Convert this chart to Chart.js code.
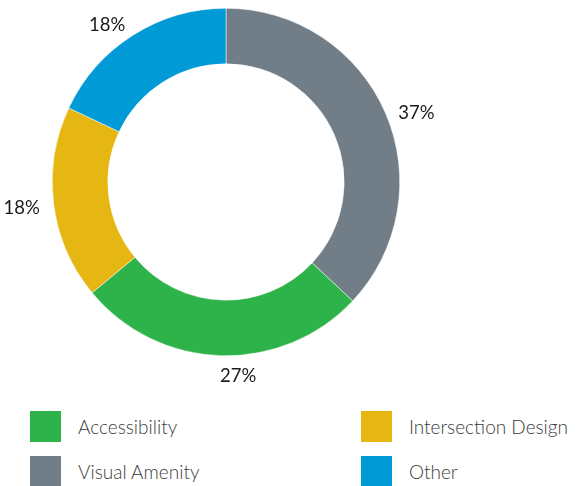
<!DOCTYPE html>
<html>
<head>
<meta charset="utf-8">
<script src="https://cdn.jsdelivr.net/npm/chart.js@4.4.1/dist/chart.umd.min.js"></script>
<style>
  html, body { margin: 0; padding: 0; background: #fff; }
  #wrap { position: relative; width: 578px; height: 486px; overflow: hidden; }
  #chart-box { position: absolute; left: 0; top: 0; width: 578px; height: 400px; }
  #legend { position: absolute; left: 30px; top: 411px; width: 548px; }
  .item { position: absolute; display: flex; align-items: center; font-family: Lato, sans-serif; font-weight: 300; font-size: 19px; color: #3c3c3c; white-space: nowrap; }
  .sw { width: 31px; height: 31px; margin-right: 17px; flex: none; }
</style>
</head>
<body>
<div id="wrap">
  <div id="chart-box"><canvas id="myChart"></canvas></div>
  <div id="legend"></div>
</div>
<script>
// slices go clockwise from 12 o'clock
const labels = ["Visual Amenity", "Accessibility", "Intersection Design", "Other"];
const values = [37, 27, 18, 18];
const colors = ["#717e87", "#2db34a", "#e6b612", "#009ad7"];
// legend order (2 columns)
const legendOrder = ["Accessibility", "Intersection Design", "Visual Amenity", "Other"];

// percent labels outside the ring: right half left-aligned, left half right-aligned
const outsideLabels = {
  id: "outsideLabels",
  afterDatasetsDraw(chart) {
    const ctx = chart.ctx;
    const meta = chart.getDatasetMeta(0);
    ctx.save();
    ctx.font = "400 18.5px Lato, sans-serif";
    ctx.fillStyle = "#1a1a1a";
    ctx.textBaseline = "middle";
    meta.data.forEach((arc, i) => {
      const mid = (arc.startAngle + arc.endAngle) / 2;
      const r = arc.outerRadius + 14;
      const x = arc.x + Math.cos(mid) * r;
      const y = arc.y + Math.sin(mid) * r;
      const right = Math.cos(mid) >= -0.05;
      ctx.textAlign = right ? "left" : "right";
      ctx.fillText(values[i] + "%", x, y + (right ? 6 : 2));
    });
    ctx.restore();
  }
};

new Chart(document.getElementById("myChart"), {
  type: "doughnut",
  data: {
    labels: labels,
    datasets: [{
      data: values,
      backgroundColor: colors,
      borderColor: "#ffffff",
      borderWidth: 0.5
    }]
  },
  options: {
    responsive: true,
    maintainAspectRatio: false,
    animation: false,
    cutout: "68%",
    layout: { padding: { left: 52, right: 178, top: 8, bottom: 44 } },
    plugins: {
      legend: { display: false },
      tooltip: { enabled: false }
    }
  },
  plugins: [outsideLabels]
});

// html legend
const legend = document.getElementById("legend");
legendOrder.forEach((name, k) => {
  const i = labels.indexOf(name);
  const el = document.createElement("div");
  el.className = "item";
  el.style.left = (k % 2 ? 331 : 0) + "px";
  el.style.top = (Math.floor(k / 2) * 45) + "px";
  el.innerHTML = '<span class="sw" style="background:' + colors[i] + '"></span>' + name;
  legend.appendChild(el);
});
</script>
</body>
</html>
